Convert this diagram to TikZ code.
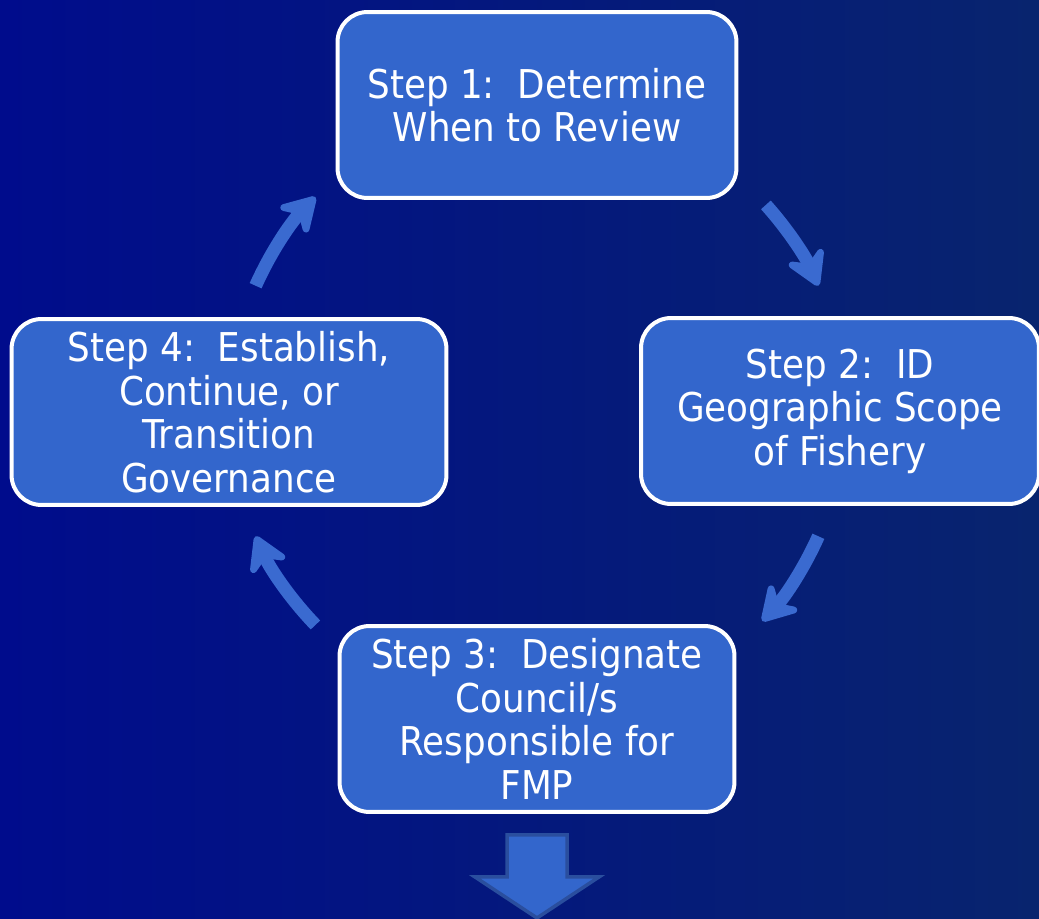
\documentclass[tikz,border=0pt]{standalone}
\usepackage{fontspec}
\setmainfont{DejaVu Sans Condensed}
\usetikzlibrary{arrows.meta, positioning, calc}

\definecolor{bgleft}{HTML}{000C8C}
\definecolor{bgright}{HTML}{08246E}
\definecolor{boxblue}{HTML}{3366CC}
\definecolor{arrowblue}{HTML}{3A6AD0}
\definecolor{edgeblue}{HTML}{2A4E9E}

\begin{document}
\begin{tikzpicture}[x=0.02cm, y=0.02cm,
    stepbox/.style={draw=white, line width=0.08cm, fill=boxblue, rounded corners=0.6cm,
      align=center, text=white, font=\fontsize{22.6}{24.8}\selectfont,
      minimum height=3.72cm, inner sep=0pt},
    cyc/.style={arrowblue, line width=0.26cm,
      -{Stealth[length=0.85cm, width=1.0cm, inset=0.3cm, round]}},
    nextarrow/.style={draw=edgeblue, line width=0.07cm, fill=boxblue}]
    % background
    \shade[left color=bgleft, right color=bgright] (0,0) rectangle (1039,-919);
    \useasboundingbox (0,0) rectangle (1039,-919);
    % Steps
    \node[stepbox, minimum width=7.98cm] (s1) at (537,-105) {Step 1:\ \ Determine\\When to Review};
    \node[stepbox, minimum width=7.96cm] (s2) at (840,-411) {Step 2:\ \ ID\\Geographic Scope\\of Fishery};
    \node[stepbox, minimum width=7.90cm] (s3) at (537,-719) {Step 3:\ \ Designate\\Council/s\\Responsible for\\FMP};
    \node[stepbox, minimum width=8.70cm] (s4) at (229,-412) {Step 4:\ \ Establish,\\Continue, or\\Transition\\Governance};
    % Cycle
    \coordinate (hub) at (s1 |- s2);
    \draw[cyc] ([shift={(42:308)}]hub) arc[start angle=42, end angle=24, radius=308];
    \draw[cyc] ([shift={(-24:308)}]hub) arc[start angle=-24, end angle=-43, radius=308];
    \draw[cyc] ([shift={(-136:308)}]hub) arc[start angle=-136, end angle=-156, radius=308];
    \draw[cyc] ([shift={(156:308)}]hub) arc[start angle=156, end angle=136, radius=308];
    % Next
    \draw[nextarrow] ([shift={(-30,-21)}]s3.south) -- ++(60,0) -- ++(0,-42) -- ++(32,0)
      -- ++(-62,-41) -- ++(-62,41) -- ++(32,0) -- cycle;
\end{tikzpicture}
\end{document}
